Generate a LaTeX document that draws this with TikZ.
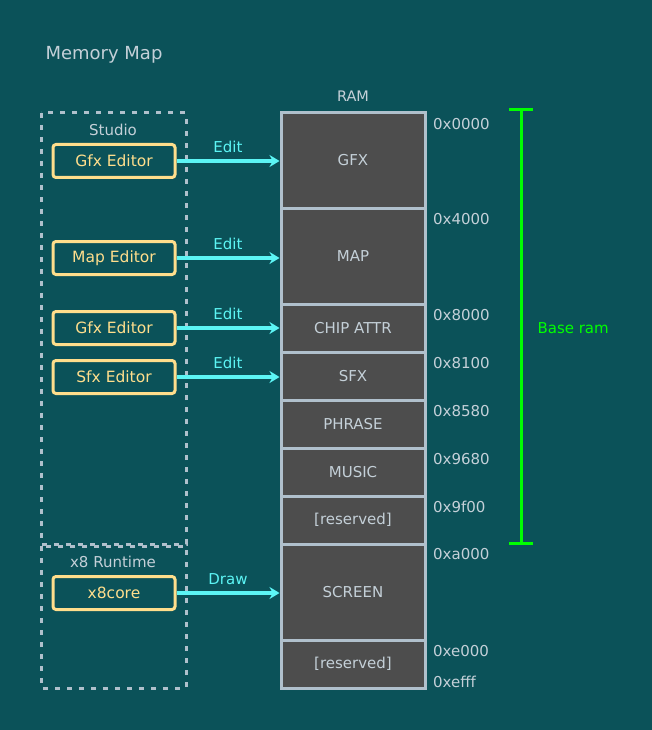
\documentclass[tikz,border=0pt]{standalone}
\usepackage{fontspec}
\setmainfont{DejaVu Sans}
\usepackage{xcolor}
\usepackage{tikz}
\usetikzlibrary{arrows.meta,positioning}
\definecolor{mmBack}{RGB}{11,82,89}
\definecolor{mmCell}{RGB}{77,77,77}
\definecolor{mmLine}{RGB}{176,192,204}
\definecolor{mmText}{RGB}{196,208,216}
\definecolor{mmYellow}{RGB}{255,222,140}
\definecolor{mmCyan}{RGB}{92,245,245}
\definecolor{mmGreen}{RGB}{0,255,0}

\tikzset{
    ramcell/.style={draw=mmLine, fill=mmCell, line width=3pt, minimum width=144pt,
        inner sep=0pt, text=mmText, font=\fontsize{15}{17}\selectfont},
    editor/.style={draw=mmYellow, line width=3pt, rounded corners=3pt, minimum width=122pt,
        minimum height=33pt, inner sep=0pt, text=mmYellow, font=\fontsize{15.5}{17}\selectfont},
    addr/.style={anchor=west, text=mmText, font=\fontsize{15}{17}\selectfont, inner sep=0pt},
    wire/.style={mmCyan, line width=3.5pt, -{Stealth[length=10pt,width=12pt]}},
    wirelabel/.style={text=mmCyan, font=\fontsize{15}{17}\selectfont, above=3pt},
    groupbox/.style={mmLine, line width=3pt, dash pattern=on 5pt off 7pt},
}

\begin{document}
\begin{tikzpicture}[x=1pt,y=-1pt]

    \fill[mmBack] (0,0) rectangle (652,730);
    \useasboundingbox (0,0) rectangle (652,730);

    \node[text=mmText, anchor=west, font=\fontsize{18}{20}\selectfont] (title) at (42,55) {Memory Map};

    % RAM column
    \node[text=mmText, font=\fontsize{14.5}{16}\selectfont] (ramlabel) at (353,96) {RAM};
    \node[ramcell, minimum height=95pt] (gfx) at (353,160.5) {GFX};
    \node[ramcell, minimum height=96pt] (map) at (353,256) {MAP};
    \node[ramcell, minimum height=48pt] (chip) at (353,328) {CHIP ATTR};
    \node[ramcell, minimum height=48pt] (sfx) at (353,376) {SFX};
    \node[ramcell, minimum height=48pt] (phrase) at (353,424) {PHRASE};
    \node[ramcell, minimum height=48pt] (music) at (353,472) {MUSIC};
    \node[ramcell, minimum height=48pt] (resa) at (353,520) {[reserved]};
    \node[ramcell, minimum height=96pt] (screen) at (353,592) {SCREEN};
    \node[ramcell, minimum height=48pt] (resb) at (353,664) {[reserved]};

    % addresses
    \node[addr] (a0) at (433,124) {0x0000};
    \node[addr] (a1) at (433,219) {0x4000};
    \node[addr] (a2) at (433,315) {0x8000};
    \node[addr] (a3) at (433,363) {0x8100};
    \node[addr] (a4) at (433,411) {0x8580};
    \node[addr] (a5) at (433,459) {0x9680};
    \node[addr] (a6) at (433,507) {0x9f00};
    \node[addr] (a7) at (433,554) {0xa000};
    \node[addr] (a8) at (433,651) {0xe000};
    \node[addr] (a9) at (433,682) {0xefff};

    % base ram span
    \draw[mmGreen, line width=3pt] (521,110) -- (521,543);
    \draw[mmGreen, line width=3pt] (509,110) -- (533,110);
    \draw[mmGreen, line width=3pt] (509,543) -- (533,543);
    \node[text=mmGreen, anchor=west, font=\fontsize{15}{17}\selectfont] (baseram) at (534,328) {Base ram};

    % Studio group
    \draw[groupbox] (41,113) rectangle (186,544);
    \node[text=mmText, font=\fontsize{15}{17}\selectfont] (studio) at (113,130) {Studio};
    \node[editor] (gfxed) at (114,161) {Gfx Editor};
    \node[editor] (maped) at (114,258) {Map Editor};
    \node[editor] (chiped) at (114,328) {Gfx Editor};
    \node[editor] (sfxed) at (114,377) {Sfx Editor};

    % Runtime group
    \draw[groupbox] (41,546) rectangle (186,688);
    \node[text=mmText, font=\fontsize{15}{17}\selectfont] (runtime) at (113,562) {x8 Runtime};
    \node[editor] (core) at (114,593) {x8core};

    % connectors
    \draw[wire] (gfxed.east) -- node[wirelabel] {Edit} (gfxed.east -| gfx.west);
    \draw[wire] (maped.east) -- node[wirelabel] {Edit} (maped.east -| map.west);
    \draw[wire] (chiped.east) -- node[wirelabel] {Edit} (chiped.east -| chip.west);
    \draw[wire] (sfxed.east) -- node[wirelabel] {Edit} (sfxed.east -| sfx.west);
    \draw[wire] (core.east) -- node[wirelabel] {Draw} (core.east -| screen.west);

\end{tikzpicture}
\end{document}
